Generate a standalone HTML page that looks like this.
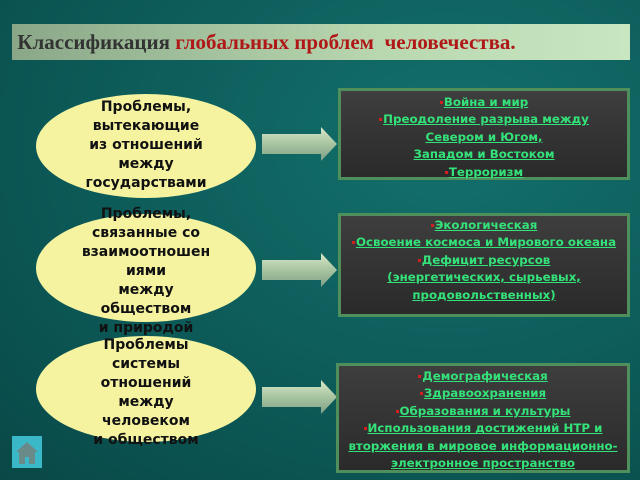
<!DOCTYPE html>
<html><head><meta charset="utf-8"><style>
body{margin:0;width:640px;height:480px;overflow:hidden;background:radial-gradient(ellipse at 70% 30%,#13706c,#0b5553 70%,#094847);position:relative;font-family:"Liberation Sans","DejaVu Sans",sans-serif}
.title{position:absolute;left:12px;top:24px;width:618px;height:36px;background:linear-gradient(90deg,#8aa888,#b9d8b0 60%,#c8e6c0);font-family:"Liberation Serif",serif;font-weight:bold;font-size:21px;line-height:36px;color:#333}
.title span{color:#b01818}
.ell{position:absolute;left:36px;width:220px;background:#f5f3a0;border-radius:50%;}
.et{position:absolute;left:26px;width:240px;text-align:center;font-family:"DejaVu Sans",sans-serif;font-weight:bold;font-size:14px;line-height:19px;color:#111}
.box{position:absolute;left:338px;width:286px;border:3px solid #4f8f5c;background:linear-gradient(#3e3e3e,#2a2a2a);text-align:center;font-family:"DejaVu Sans",sans-serif;font-weight:bold;font-size:11.8px;line-height:17.4px;color:#34e27a}
.box div{height:17.4px;white-space:nowrap}
.box u{text-decoration:underline}
.b{display:inline-block;width:3px;height:3px;background:#d02020;vertical-align:middle;margin-right:1px}
.home{position:absolute;left:12px;top:436px;width:30px;height:32px;background:#3ab8c8}
</style></head><body>
<div class="title">&nbsp;Классификация <span>глобальных проблем&nbsp; человечества.</span></div>

<div class="ell" style="top:94px;height:104px"></div>
<div class="et" style="top:98px">Проблемы,<br>вытекающие<br>из отношений<br>между<br>государствами</div>

<div class="ell" style="top:214px;height:108px"></div>
<div class="et" style="top:205px">Проблемы,<br>связанные со<br>взаимоотношен<br>иями<br>между<br>обществом<br>и природой</div>

<div class="ell" style="top:336px;height:106px"></div>
<div class="et" style="top:336px">Проблемы<br>системы<br>отношений<br>между<br>человеком<br>и обществом</div>

<svg width="640" height="480" style="position:absolute;left:0;top:0">
<defs><linearGradient id="g" x1="0" y1="0" x2="0" y2="1"><stop offset="0" stop-color="#d8e8c8"/><stop offset="0.5" stop-color="#a8c4a0"/><stop offset="1" stop-color="#7fa088"/></linearGradient></defs>
<polygon points="262,134 321,134 321,127 337,144 321,161 321,154 262,154" fill="url(#g)"/>
<polygon points="262,260 321,260 321,253 337,270 321,287 321,280 262,280" fill="url(#g)"/>
<polygon points="262,387 321,387 321,380 337,397 321,414 321,407 262,407" fill="url(#g)"/>
</svg>

<div class="box" style="top:88px;height:83px;padding-top:3px"><div><span class="b"></span><u>Война и мир</u></div><div><span class="b"></span><u>Преодоление разрыва между</u></div><div><u>Севером и Югом,</u></div><div><u> Западом и Востоком</u></div><div><span class="b"></span><u>Терроризм</u></div></div>

<div class="box" style="top:213px;height:97px;padding-top:1px"><div><span class="b"></span><u>Экологическая</u></div><div><span class="b"></span><u>Освоение космоса и Мирового океана</u></div><div><span class="b"></span><u>Дефицит ресурсов</u></div><div><u>(энергетических, сырьевых,</u></div><div><u>продовольственных)</u></div></div>

<div class="box" style="top:363px;left:336px;width:288px;height:102px;padding-top:2px"><div><span class="b"></span><u>Демографическая</u></div><div><span class="b"></span><u>Здравоохранения</u></div><div><span class="b"></span><u>Образования и культуры</u></div><div><span class="b"></span><u>Использования достижений НТР и</u></div><div><u>вторжения в мировое информационно-</u></div><div><u>электронное пространство</u></div></div>

<div class="home"><svg width="30" height="32"><polygon points="4,16 15,6 26,16" fill="#6a8a8a"/><rect x="7" y="16" width="16" height="12" fill="#6a8a8a"/><rect x="13" y="21" width="4" height="7" fill="#3ab8c8"/></svg></div>
</body></html>
